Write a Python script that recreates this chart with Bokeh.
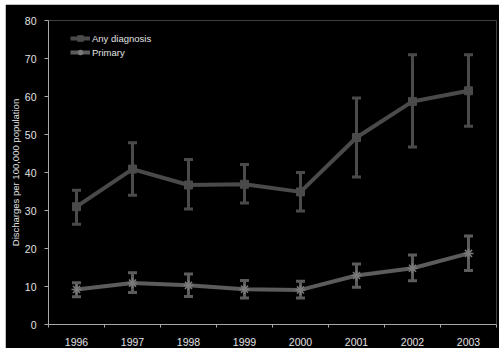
import numpy as np
from bokeh.plotting import figure
from bokeh.models import (ColumnDataSource, Whisker, TeeHead, FixedTicker,
                          Legend, LegendItem)
from bokeh.embed import file_html
from bokeh.resources import INLINE

# Hospital discharges per 100,000 population, by year
years = ["1996", "1997", "1998", "1999", "2000", "2001", "2002", "2003"]

any_dx = [31.0, 40.9, 36.7, 36.9, 34.9, 49.2, 58.7, 61.5]
any_dx_upper = [35.3, 47.8, 43.4, 42.1, 40.0, 59.6, 71.0, 71.0]
any_dx_lower = [26.4, 34.0, 30.4, 32.0, 29.9, 38.8, 46.7, 52.2]

primary = [9.2, 10.9, 10.3, 9.3, 9.1, 12.9, 14.8, 18.7]
primary_upper = [11.0, 13.6, 13.3, 11.6, 11.4, 15.9, 18.3, 23.3]
primary_lower = [7.3, 8.4, 7.4, 7.0, 7.0, 9.8, 11.5, 14.2]

y_ticks = [0, 10, 20, 30, 40, 50, 60, 70, 80]

# each year sits in the middle of its own unit-wide slot
x = np.arange(len(years)) + 0.5

src_any = ColumnDataSource(dict(x=x, y=any_dx, up=any_dx_upper, lo=any_dx_lower))
src_pri = ColumnDataSource(dict(x=x, y=primary, up=primary_upper, lo=primary_lower))

DARK = "#4a4a4a"
MID = "#5c5c5c"
AXIS = "#a8a8a8"
TEXT = "#e2e2e2"
FONT = "Liberation Sans"

p = figure(width=494, height=344, x_range=(0, len(years)), y_range=(0, 80),
           output_backend="svg", toolbar_location=None,
           background_fill_color="black", border_fill_color="black",
           outline_line_color=None, min_border_left=43, min_border_right=3,
           min_border_top=16, min_border_bottom=23, margin=(4, 0, 4, 5))
p.grid.visible = False

# x axis: labels centred in each slot, tick marks on the slot boundaries
p.xaxis.ticker = FixedTicker(ticks=list(x), minor_ticks=list(range(len(years) + 1)))
p.xaxis.major_label_overrides = {float(v): y for v, y in zip(x, years)}
p.xaxis.major_tick_line_color = None
p.xaxis.minor_tick_line_color = AXIS
p.xaxis.minor_tick_in = 0
p.xaxis.minor_tick_out = 3
p.xaxis.major_label_standoff = 7

p.yaxis.ticker = FixedTicker(ticks=y_ticks)
p.yaxis.minor_tick_line_color = None
p.yaxis.major_tick_in = 0
p.yaxis.major_tick_out = 4
p.yaxis.major_tick_line_color = AXIS
p.yaxis.major_label_standoff = 8
p.yaxis.axis_label = "Discharges per 100,000 population"
p.yaxis.axis_label_standoff = 1
p.yaxis.axis_label_text_font = FONT
p.yaxis.axis_label_text_font_size = "9.5px"
p.yaxis.axis_label_text_font_style = "normal"
p.yaxis.axis_label_text_color = TEXT

for ax in (p.xaxis, p.yaxis):
    ax.axis_line_color = AXIS
    ax.axis_line_width = 1
    ax.major_label_text_font = FONT
    ax.major_label_text_font_size = "10.5px"
    ax.major_label_text_color = TEXT

# error bars
for src, col in ((src_any, DARK), (src_pri, MID)):
    w = Whisker(source=src, base="x", upper="up", lower="lo",
                line_color=col, line_width=3,
                upper_head=TeeHead(size=9, line_color=col, line_width=3),
                lower_head=TeeHead(size=9, line_color=col, line_width=3))
    p.add_layout(w)

l_any = p.line("x", "y", source=src_any, line_color=DARK, line_width=4)
m_any = p.scatter("x", "y", source=src_any, marker="square", size=8,
                  fill_color=DARK, line_color=DARK)
l_pri = p.line("x", "y", source=src_pri, line_color=MID, line_width=4)
m_pri = p.scatter("x", "y", source=src_pri, marker="asterisk", size=10,
                  line_color="#7a7a7a", line_width=1.5)

legend = Legend(items=[LegendItem(label="Any diagnosis", renderers=[l_any, m_any]),
                       LegendItem(label="Primary", renderers=[l_pri, m_pri])],
                location=(22, 265), padding=0, margin=0, spacing=0,
                glyph_width=20, glyph_height=14, label_height=14,
                label_standoff=2, background_fill_alpha=0,
                border_line_color=None, label_text_font=FONT,
                label_text_font_size="9.5px", label_text_color=TEXT)
p.add_layout(legend)

open("out.html", "w").write(file_html(p, INLINE))
